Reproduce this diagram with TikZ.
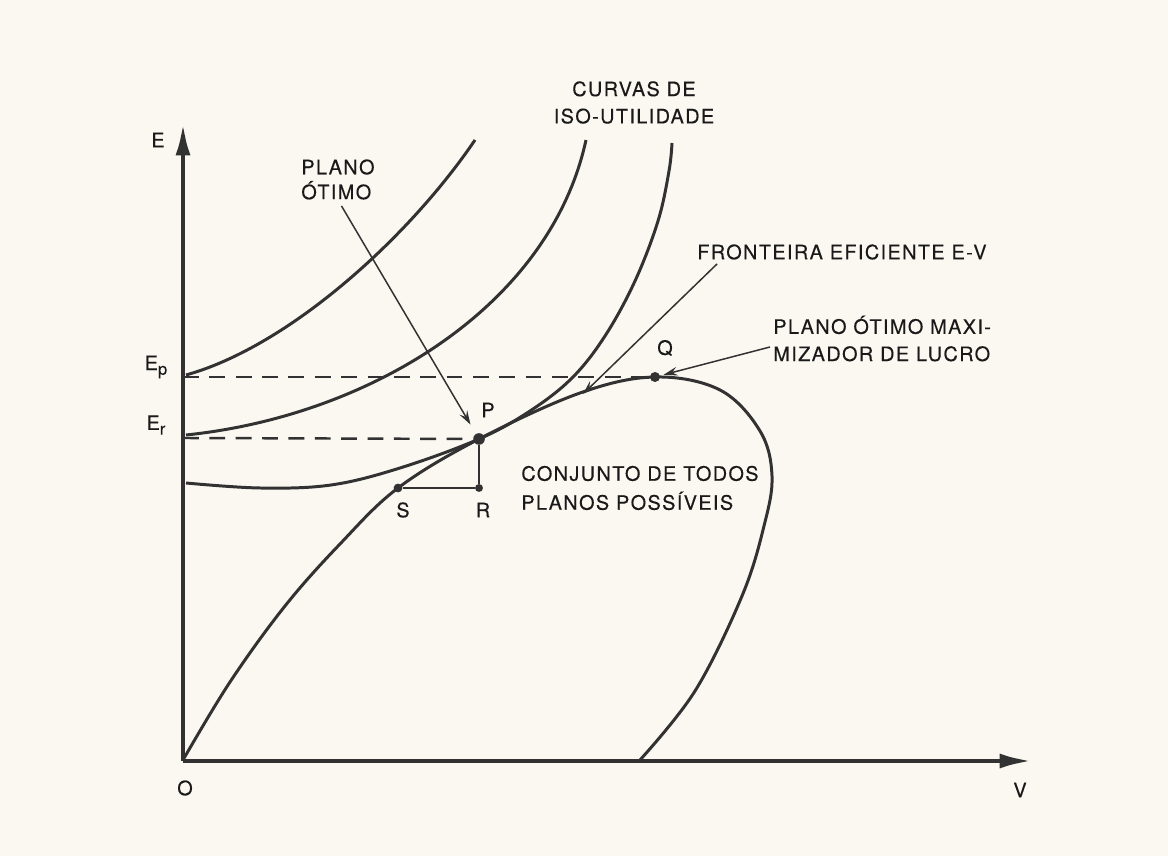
\documentclass[tikz,border=0pt]{standalone}
\usepackage{fontspec}
\setmainfont{TeX Gyre Heros}
\usetikzlibrary{arrows.meta}

\definecolor{paper}{RGB}{251,248,241}
\definecolor{ink}{RGB}{50,50,50}
\definecolor{lettering}{RGB}{25,25,25}
\newcommand\lblfont{\fontsize{11.3pt}{15.5pt}\selectfont\addfontfeature{LetterSpace=7,FakeBold=0.3}}
\newcommand\lowidx[1]{\raisebox{-0.45ex}{\fontsize{9.5pt}{9.5pt}\selectfont #1}}

\begin{document}
\begin{tikzpicture}[x=2cm,y=2cm,
        axis/.style={line width=2.8pt, draw=ink, -{Latex[length=19pt,width=8.5pt]}},
        curve/.style={line width=1.7pt, draw=ink},
        guide/.style={line width=1.4pt, draw=ink, dash pattern=on 9pt off 6pt},
        pointer/.style={line width=0.85pt, draw=ink, -{Stealth[length=8pt,width=5pt,inset=3pt]}},
        dot/.style={circle, fill=ink, inner sep=0pt, minimum size=#1},
        dot/.default=6pt,
        lbl/.style={font=\lblfont, text=lettering, inner sep=0pt},
        block/.style={lbl, align=left, anchor=west}
    ]
        % Paper and frame
        \fill[paper] (0,0) rectangle (11.68,8.56);
        \useasboundingbox (0,0) rectangle (11.68,8.56);

        % Axes
        \coordinate (O) at (1.83,0.95);
        \draw[axis] (O) -- (1.83,7.34);
        \draw[axis] (O) -- (10.33,0.95);
        \node[lbl] (E) at (1.58,7.16) {E};
        \node[lbl] (V) at (10.20,0.66) {V};
        \node[lbl] (origin) at (1.85,0.68) {O};

        % Levels on the E axis
        \coordinate (ep) at (1.83,4.79);
        \coordinate (er) at (1.83,4.18);
        \node[lbl] (Eplbl) at (1.56,4.89) {E\lowidx{p}};
        \node[lbl] (Erlbl) at (1.56,4.31) {E\lowidx{r}};

        % Points
        \node[dot=5.7pt] (Q) at (6.55,4.79) {};
        \node[dot=6.6pt] (P) at (4.79,4.17) {};
        \node[dot=5pt] (S) at (3.98,3.68) {};
        \node[dot=4.5pt] (R) at (4.79,3.68) {};
        \node[lbl] (Qlbl) at (6.65,5.08) {Q};
        \node[lbl] (Plbl) at (4.88,4.46) {P};
        \node[lbl] (Slbl) at (4.03,3.46) {S};
        \node[lbl] (Rlbl) at (4.83,3.46) {R};

        % Dashed guides
        \draw[guide] (ep) -- (Q);
        \draw[guide] (er) -- (P);

        % P-R-S
        \draw[line width=1.1pt, draw=ink] (P) -- (R) -- (S);

        % Iso-utility curves
        \draw[curve] (1.86,4.81) .. controls (2.9,5.1) and (4.1,6.2) .. (4.75,7.16);
        \draw[curve] (1.86,4.21) .. controls (3.7,4.4) and (5.5,5.5) .. (5.86,7.16);
        \draw[curve] plot[smooth, tension=0.6] coordinates {(1.86,3.73) (2.6,3.68) (3.31,3.71) (4.0,3.88) (4.79,4.17) (5.30,4.45) (5.72,4.78) (6.05,5.20) (6.35,5.75) (6.58,6.35) (6.69,6.85) (6.72,7.13)};

        % Set of all possible plans
        \draw[curve] plot[smooth, tension=0.6] coordinates {(1.83,0.96) (2.30,1.74) (2.85,2.50) (3.40,3.12) (3.98,3.68) (4.79,4.17) (5.80,4.63) (6.55,4.79) (7.20,4.66) (7.60,4.25) (7.72,3.80) (7.64,3.30) (7.42,2.60) (6.95,1.65) (6.40,0.96)};

        % Texts
        \node[lbl, align=center] (curvas) at (6.34,7.535) {CURVAS DE\\ISO-UTILIDADE};
        \node[block] (plano) at (3.01,6.765) {PLANO\\[-1.3pt]ÓTIMO};
        \node[block] (fronteira) at (6.97,6.04) {FRONTEIRA EFICIENTE E-V};
        \node[block] (maxi) at (7.73,5.175) {PLANO ÓTIMO MAXI-\\MIZADOR DE LUCRO};
        \node[block] (conjunto) at (5.21,3.68) {CONJUNTO DE TODOS\\[1pt]PLANOS POSSÍVEIS};

        % Pointers
        \coordinate (ftail) at (7.17,5.92);
        \coordinate (ftip) at (5.83,4.62);
        \coordinate (qtail) at (7.70,5.09);
        \draw[pointer, shorten <=4pt, shorten >=6pt] (plano.south) -- (P);
        \draw[pointer] (ftail) -- (ftip);
        \draw[pointer, shorten >=2pt] (qtail) -- (Q);
    \end{tikzpicture}
\end{document}
